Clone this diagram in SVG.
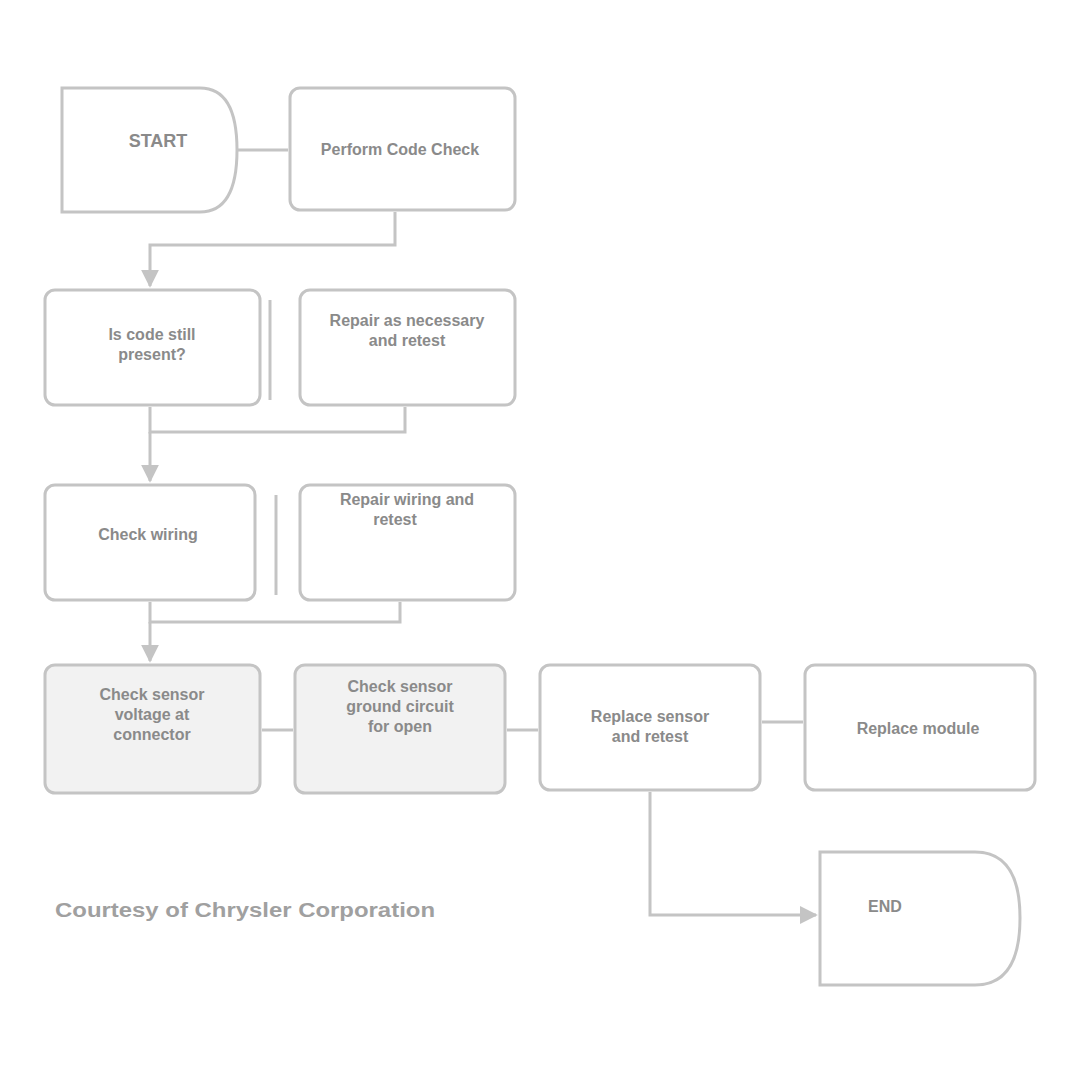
<svg xmlns="http://www.w3.org/2000/svg" width="1069" height="1070" viewBox="0 0 1069 1070">
<defs>
<style>
.box{fill:#fff;stroke:#c4c4c4;stroke-width:3}
.sh{fill:#f2f2f2}
.t{font-family:"Liberation Sans",Arial,sans-serif;font-size:16px;font-weight:bold;fill:#8a8a8a;text-anchor:middle}
.c{fill:none;stroke:#c4c4c4;stroke-width:3}
</style>
<marker id="ah" viewBox="0 0 10 10" refX="9" refY="5" markerWidth="6" markerHeight="6" orient="auto"><path d="M0,0 L10,5 L0,10 z" fill="#c4c4c4"/></marker>
</defs>
<rect width="1069" height="1070" fill="#fff"/>
<g id="connectors">
<path class="c" d="M237,150 H288"/>
<path class="c" d="M395,212 V245 H150 V286" marker-end="url(#ah)"/>
<path class="c" d="M270,300 V400"/>
<path class="c" d="M150,407 V432 H405 V407"/>
<path class="c" d="M150,432 V481" marker-end="url(#ah)"/>
<path class="c" d="M276,495 V595"/>
<path class="c" d="M150,602 V622 H400 V602"/>
<path class="c" d="M150,622 V661" marker-end="url(#ah)"/>
<path class="c" d="M262,730 H293"/>
<path class="c" d="M507,730 H538"/>
<path class="c" d="M762,722 H803"/>
<path class="c" d="M650,792 V915 H816" marker-end="url(#ah)"/>
</g>
<g id="n1"><path class="box" d="M62,88 H200 Q237,88 237,150 Q237,212 200,212 H62 Z"/><text class="t" x="158" y="147" style="font-size:18px">START</text></g>
<g id="n2"><rect class="box" x="290" y="88" width="225" height="122" rx="10"/><text class="t" x="400" y="155">Perform Code Check</text></g>
<g id="n3"><rect class="box" x="45" y="290" width="215" height="115" rx="10"/><text class="t" x="152" y="340">Is code still</text><text class="t" x="152" y="360">present?</text></g>
<g id="n4"><rect class="box" x="300" y="290" width="215" height="115" rx="10"/><text class="t" x="407" y="326">Repair as necessary</text><text class="t" x="407" y="346">and retest</text></g>
<g id="n5"><rect class="box" x="45" y="485" width="210" height="115" rx="10"/><text class="t" x="148" y="540">Check wiring</text></g>
<g id="n6"><rect class="box" x="300" y="485" width="215" height="115" rx="10"/><text class="t" x="407" y="505">Repair wiring and</text><text class="t" x="395" y="525">retest</text></g>
<g id="n7"><rect class="box sh" x="45" y="665" width="215" height="128" rx="10"/><text class="t" x="152" y="700">Check sensor</text><text class="t" x="152" y="720">voltage at</text><text class="t" x="152" y="740">connector</text></g>
<g id="n8"><rect class="box sh" x="295" y="665" width="210" height="128" rx="10"/><text class="t" x="400" y="692">Check sensor</text><text class="t" x="400" y="712">ground circuit</text><text class="t" x="400" y="732">for open</text></g>
<g id="n9"><rect class="box" x="540" y="665" width="220" height="125" rx="10"/><text class="t" x="650" y="722">Replace sensor</text><text class="t" x="650" y="742">and retest</text></g>
<g id="n10"><rect class="box" x="805" y="665" width="230" height="125" rx="10"/><text class="t" x="918" y="734">Replace module</text></g>
<g id="n11"><path class="box" d="M820,852 H975 Q1020,852 1020,918 Q1020,985 975,985 H820 Z"/><text class="t" x="885" y="912">END</text></g>
<text x="55" y="917" textLength="380" lengthAdjust="spacingAndGlyphs" style="font-family:'Liberation Sans',Arial,sans-serif;font-size:20px;font-weight:bold;fill:#a0a0a0">Courtesy of Chrysler Corporation</text>
</svg>
